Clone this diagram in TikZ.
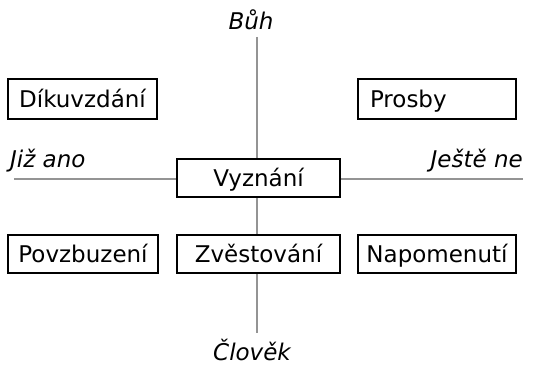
\documentclass[tikz,border=0pt]{standalone}
\usepackage{fontspec}
\setmainfont{DejaVu Sans}
\begin{document}
\begin{tikzpicture}[x=1pt,y=-1pt,
  box/.style={draw=black,line width=1.4pt,fill=white,inner sep=0pt,minimum height=38pt,text height=17pt,text depth=0pt,font=\fontsize{23}{27}\selectfont},
  axis/.style={draw=black!42,line width=2.4pt},
  lbl/.style={inner sep=0pt,font=\fontsize{23}{27}\selectfont\itshape}]
\useasboundingbox (0,0) rectangle (539,366);
\coordinate (top) at (257,37);
\coordinate (bot) at (257,333);
\coordinate (lft) at (14,179);
\coordinate (rgt) at (523,179);
\draw[axis] (top) -- (bot);
\draw[axis] (lft) -- (rgt);
\node[box,minimum width=149pt,minimum height=40pt] (dik) at (82.5,99) {Díkuvzdání};
\node[box,minimum width=158pt,minimum height=40pt] (pro) at (437,99) {\makebox[134pt][l]{Prosby}};
\node[box,minimum width=163pt] (vyz) at (258.5,178) {Vyznání};
\node[box,minimum width=163pt] (zve) at (258.5,254) {Zvěstování};
\node[box,minimum width=150pt] (pov) at (83,254) {Povzbuzení};
\node[box,minimum width=158pt] (nap) at (437,254) {Napomenutí};
\node[lbl,anchor=base] (buh) at (251,30) {Bůh};
\node[lbl,anchor=base] (clo) at (252,361) {Člověk};
\node[lbl,anchor=base west] (jiz) at (10,168) {Již ano};
\node[lbl,anchor=base east] (jes) at (523,168) {Ještě ne};
\end{tikzpicture}
\end{document}
